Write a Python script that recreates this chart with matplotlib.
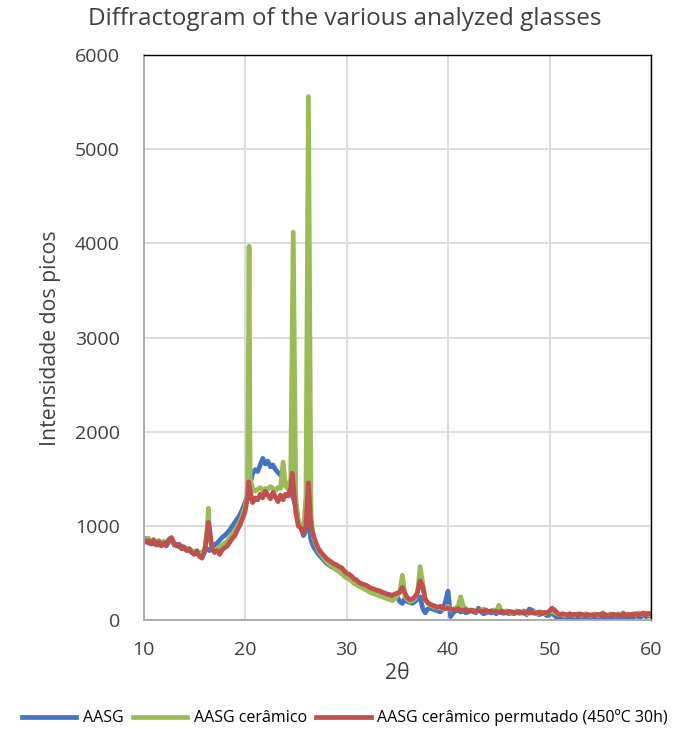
import numpy as np
import matplotlib
matplotlib.use("Agg")
import matplotlib.pyplot as plt

plt.rcParams['font.family'] = ['Open Sans', 'DejaVu Sans']

# 2-theta sampling grid (0.25 deg steps) and the sharp peak points
two_theta = np.arange(10, 60.001, 0.25)

aasg = [840, 870, 820, 850, 810, 840, 800, 830, 810,
        790, 840, 860, 800, 810, 780, 790, 760,
        760, 740, 730, 720, 740, 700, 720, 740,
        760, 740, 770, 800, 820, 850, 880, 900,
        930, 960, 1000, 1040, 1080, 1120, 1180, 1250,
        1330, 1450, 1560, 1600, 1580, 1650, 1720, 1660,
        1690, 1630, 1650, 1600, 1570, 1540, 1500, 1450,
        1400, 1350, 1300, 1200, 1050, 1000, 900, 950,
        1100, 850, 780, 740, 700, 670, 640, 610,
        590, 570, 560, 540, 520, 500, 480, 460,
        450, 430, 400, 390, 370, 360, 340, 330,
        320, 310, 300, 290, 280, 270, 260, 250,
        240, 230, 240, 250, 200, 180, 230, 200,
        190, 180, 200, 230, 250, 130, 80, 120,
        130, 120, 110, 100, 90, 120, 200, 310,
        40, 80, 100, 110, 90, 100, 80, 90,
        100, 90, 80, 130, 90, 70, 80, 90,
        80, 90, 70, 100, 80, 75, 90, 70,
        80, 70, 90, 75, 80, 100, 60, 120,
        110, 90, 70, 60, 80, 70, 50, 60,
        80, 50, 30, 40, 30, 50, 20, 40,
        30, 40, 20, 50, 30, 40, 25, 30,
        40, 20, 30, 50, 30, 20, 40, 30,
        30, 45, 20, 40, 30, 50, 25, 40,
        30, 50, 40, 35, 60, 40, 50, 45]

ceramico = [880, 850, 870, 830, 860, 820, 850, 810, 840,
            820, 850, 870, 810, 800, 790, 780, 770,
            750, 760, 740, 730, 720, 700, 710, 730,
            950, 900, 760, 740, 760, 780, 800, 820,
            840, 880, 920, 950, 1000, 1050, 1120, 1200,
            1350, 1500, 1400, 1370, 1390, 1410, 1380, 1400,
            1390, 1420, 1400, 1380, 1410, 1400, 1680, 1420,
            1400, 1500, 4120, 1300, 1050, 1000, 950, 1300,
            5560, 1100, 880, 800, 740, 700, 660, 630,
            600, 580, 560, 540, 520, 500, 470, 450,
            440, 420, 390, 380, 360, 350, 330, 320,
            300, 290, 280, 270, 260, 250, 240, 230,
            220, 210, 230, 260, 300, 480, 260, 220,
            200, 210, 230, 300, 570, 400, 230, 180,
            160, 150, 140, 130, 140, 120, 130, 150,
            110, 120, 130, 150, 250, 150, 120, 110,
            100, 110, 90, 100, 110, 120, 100, 90,
            100, 110, 90, 160, 100, 90, 100, 80,
            90, 80, 100, 90, 80, 90, 70, 80,
            80, 90, 70, 80, 90, 70, 80, 90,
            100, 80, 70, 60, 70, 50, 60, 70,
            60, 50, 70, 60, 50, 70, 60, 50,
            60, 70, 50, 60, 80, 60, 50, 70,
            60, 50, 70, 60, 80, 60, 70, 60,
            70, 60, 80, 60, 70, 80, 60, 70]

permutado = [860, 830, 845, 810, 850, 800, 835, 790, 820,
             800, 860, 880, 820, 790, 810, 760, 780,
             740, 760, 720, 700, 730, 680, 660, 720,
             900, 980, 760, 720, 740, 700, 750, 770,
             790, 830, 870, 900, 960, 1010, 1080, 1150,
             1300, 1380, 1250, 1300, 1280, 1340, 1300, 1370,
             1330, 1290, 1360, 1310, 1260, 1330, 1280, 1340,
             1320, 1400, 1450, 1150, 1000, 980, 920, 1000,
             1460, 1000, 900, 820, 760, 720, 690, 660,
             640, 620, 600, 590, 570, 560, 530, 500,
             490, 470, 440, 430, 400, 390, 380, 370,
             350, 340, 330, 320, 315, 300, 290, 280,
             275, 265, 280, 290, 300, 350, 290, 240,
             220, 230, 250, 300, 420, 360, 220, 190,
             170, 160, 150, 140, 150, 130, 125, 130,
             120, 115, 110, 125, 110, 105, 115, 100,
             110, 100, 95, 105, 100, 95, 110, 90,
             100, 90, 95, 85, 100, 90, 80, 95,
             90, 85, 80, 95, 85, 75, 90, 80,
             85, 75, 80, 90, 70, 85, 80, 100,
             130, 110, 80, 60, 70, 65, 55, 70,
             60, 65, 55, 70, 60, 50, 65, 55,
             60, 50, 65, 55, 70, 60, 50, 55,
             65, 55, 60, 50, 70, 60, 55, 65,
             60, 70, 55, 65, 80, 60, 75, 65]

# extra points at the narrow reflections
ceramico_peak_x = [16.4, 20.4]
ceramico_peak_y = [1190, 3970]
permutado_peak_x = [16.4, 20.35, 24.65]
permutado_peak_y = [1040, 1470, 1560]

labels = ['AASG', 'AASG cerâmico', 'AASG cerâmico permutado (450ºC 30h)']
colors = ['#4472C4', '#9BBB59', '#C0504D']


def merge(x, y, px, py):
    xs = np.concatenate([x, px])
    ys = np.concatenate([y, py])
    order = np.argsort(xs)
    return xs[order], ys[order]


series = [
    (two_theta, np.array(aasg)),
    merge(two_theta, np.array(ceramico), ceramico_peak_x, ceramico_peak_y),
    merge(two_theta, np.array(permutado), permutado_peak_x, permutado_peak_y),
]

fig = plt.figure(figsize=(6.9, 7.29), dpi=100)
ax = fig.add_axes([0.208, 0.149, 0.7355, 0.7755])

for (xs, ys), lab, c in zip(series, labels, colors):
    ax.plot(xs, ys, color=c, lw=3.4, label=lab, solid_joinstyle='round')

ax.set_xlim(10, 60)
ax.set_ylim(0, 6000)
ax.set_xticks([10, 20, 30, 40, 50, 60])
ax.set_yticks([0, 1000, 2000, 3000, 4000, 5000, 6000])
ax.grid(True, color='#d9d9d9', lw=1.3)
ax.set_axisbelow(True)
ax.tick_params(length=0, labelsize=14, colors='#404040')
ax.tick_params(axis='y', pad=17)
ax.tick_params(axis='x', pad=15)

for s in ['left', 'bottom']:
    ax.spines[s].set_color('#a6a6a6')
    ax.spines[s].set_linewidth(1.3)
for s in ['top', 'right']:
    ax.spines[s].set_color('black')
    ax.spines[s].set_linewidth(1.0)

# title is centred on the whole figure, not on the plot area
fig.text(0.5, 1 - 19 / 729, 'Diffractogram of the various analyzed glasses',
         fontsize=17.5, color='#404040', ha='center', va='center')
ax.set_ylabel('Intensidade dos picos', fontsize=15.3, color='#404040', labelpad=10)
ax.set_xlabel('2θ', fontsize=15.3, color='#404040', labelpad=3)

fig.legend(loc='lower center', bbox_to_anchor=(0.5, -0.016), ncol=3, frameon=False,
           fontsize=11.5, handlelength=3.4, columnspacing=0.6, handletextpad=0.4)
for line in fig.legends[0].get_lines():
    line.set_linewidth(3.4)

fig.savefig('out.png', dpi=100)
